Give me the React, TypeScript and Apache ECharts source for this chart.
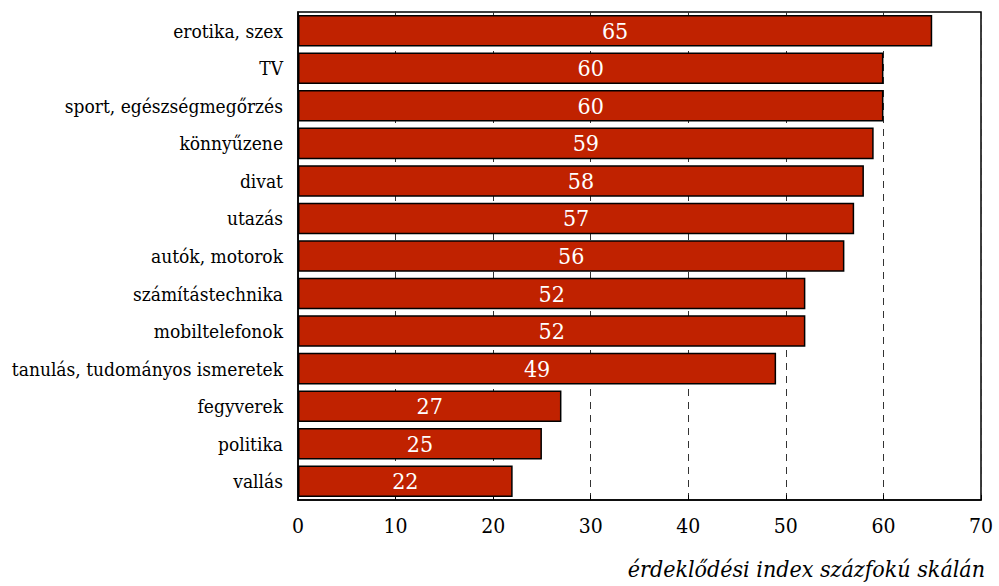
import React, { useEffect, useRef } from "react";
import * as echarts from "echarts";

const categories = [
  "erotika, szex",
  "TV",
  "sport, egészségmegőrzés",
  "könnyűzene",
  "divat",
  "utazás",
  "autók, motorok",
  "számítástechnika",
  "mobiltelefonok",
  "tanulás, tudományos ismeretek",
  "fegyverek",
  "politika",
  "vallás",
];
const values = [65, 60, 60, 59, 58, 57, 56, 52, 52, 49, 27, 25, 22];
const axisTitle = "érdeklődési index százfokú skálán";

const FONT = "DejaVu Serif Condensed";

export default function App() {
  const ref = useRef<HTMLDivElement>(null);
  useEffect(() => {
    if (!ref.current) return;
    const chart = echarts.init(ref.current, undefined, { renderer: "svg" });
    chart.setOption({
      animation: false,
      backgroundColor: "#fff",
      grid: {
        left: 298,
        right: 18,
        top: 12,
        bottom: 86,
        show: true,
        borderColor: "#000",
        borderWidth: 1.5,
      },
      xAxis: {
        type: "value",
        min: 0,
        max: 70,
        interval: 10,
        axisLine: { show: true, lineStyle: { color: "#000", width: 1.5 } },
        axisTick: { show: true, inside: true, length: 5, lineStyle: { color: "#000" } },
        axisLabel: { color: "#000", fontSize: 21, fontFamily: FONT, margin: 15 },
        splitLine: {
          show: true,
          lineStyle: { color: "#333", type: [7, 6], width: 1 },
        },
      },
      yAxis: {
        type: "category",
        data: categories,
        inverse: true,
        axisLine: { show: true, lineStyle: { color: "#000", width: 1.5 } },
        axisTick: { show: false },
        axisLabel: { color: "#000", fontSize: 19, fontFamily: FONT, margin: 15 },
        splitLine: { show: false },
      },
      series: [
        {
          type: "bar",
          data: values,
          barCategoryGap: "16%",
          itemStyle: { color: "#C02200", borderColor: "#000", borderWidth: 1.5 },
          label: {
            show: true,
            position: "inside",
            color: "#fff",
            fontSize: 23,
            fontFamily: FONT,
          },
        },
      ],
      graphic: [
        {
          type: "text",
          right: 14,
          top: 557,
          style: {
            text: axisTitle,
            fontSize: 23,
            fontStyle: "italic",
            fontFamily: FONT,
            fill: "#000",
          },
        },
      ],
    });
    return () => chart.dispose();
  }, []);
  return <div ref={ref} style={{ width: 999, height: 586, position: "fixed", left: 0, top: 0 }} />;
}
